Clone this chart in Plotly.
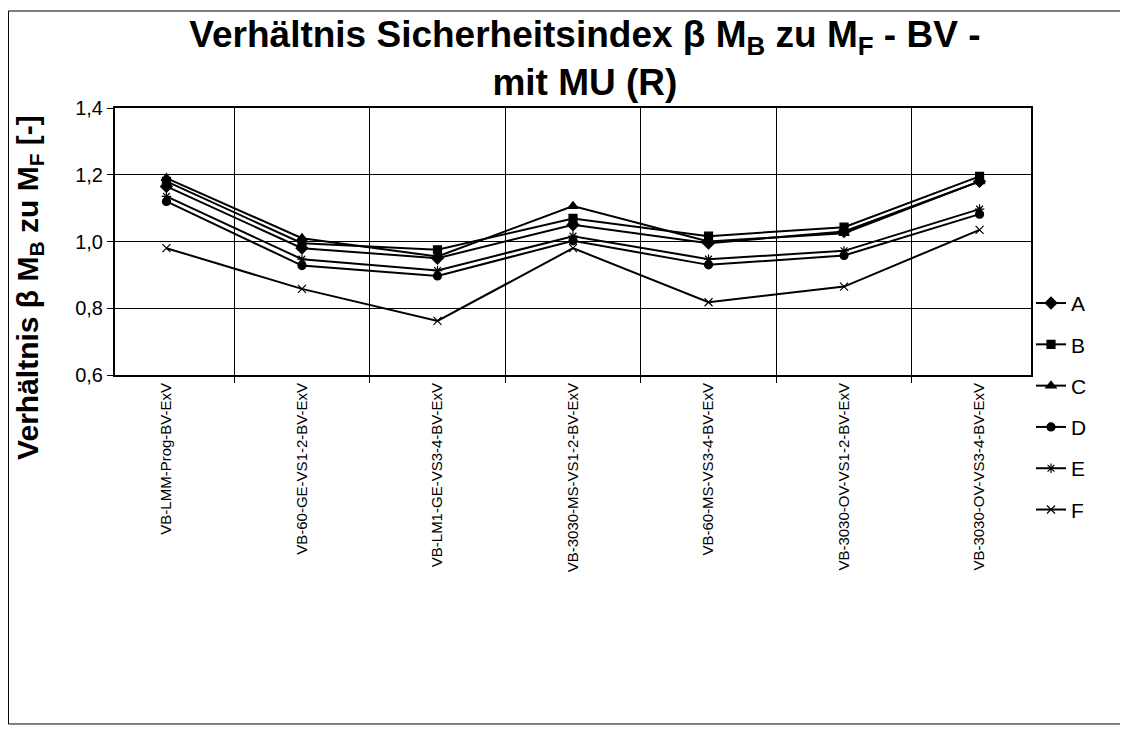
import plotly.graph_objects as go

# Kategorien (Versuchsbezeichnungen)
categories = [
    "VB-LMM-Prog-BV-ExV",
    "VB-60-GE-VS1-2-BV-ExV",
    "VB-LM1-GE-VS3-4-BV-ExV",
    "VB-3030-MS-VS1-2-BV-ExV",
    "VB-60-MS-VS3-4-BV-ExV",
    "VB-3030-OV-VS1-2-BV-ExV",
    "VB-3030-OV-VS3-4-BV-ExV",
]

# Verhältnis beta M_B / M_F je Reihe
A = [1.165, 0.980, 0.950, 1.050, 0.995, 1.030, 1.180]
B = [1.180, 0.995, 0.975, 1.069, 1.016, 1.043, 1.195]
C = [1.190, 1.010, 0.955, 1.106, 1.000, 1.025, 1.180]
D = [1.120, 0.928, 0.897, 1.002, 0.930, 0.958, 1.082]
E = [1.135, 0.947, 0.913, 1.016, 0.947, 0.972, 1.097]
F = [0.980, 0.858, 0.762, 0.980, 0.818, 0.865, 1.035]

y_ticks = [0.6, 0.8, 1.0, 1.2, 1.4]

series = [
    ("A", A, "diamond", 9),
    ("B", B, "square", 8),
    ("C", C, "triangle-up", 9),
    ("D", D, "circle", 8),
    ("E", E, "asterisk-open", 8),
    ("F", F, "x-thin-open", 8),
]

FONT = "Liberation Sans, Arial, sans-serif"

fig = go.Figure()

for name, vals, sym, size in series:
    fig.add_trace(
        go.Scatter(
            x=categories,
            y=vals,
            mode="lines+markers",
            name=name,
            legendgroup=name,
            line=dict(color="black", width=2),
            marker=dict(symbol=sym, size=size, color="black",
                        line=dict(color="black", width=1.2)),
        )
    )

# Rahmen um das gesamte Diagramm
fig.add_shape(
    type="rect", xref="paper", yref="paper",
    x0=-0.1163, x1=1.1015, y0=-1.307, y1=1.3633,
    line=dict(color="black", width=1),
)

# y-Achsentitel als Annotation (frei positionierbar)
fig.add_annotation(
    text="<b>Verhältnis β M<sub>B</sub> zu M<sub>F</sub> [-]</b>",
    xref="paper", yref="paper", x=-0.0928, y=0.33,
    xanchor="center", yanchor="middle",
    textangle=-90, showarrow=False,
    font=dict(family=FONT, size=30, color="black"),
)

fig.update_xaxes(
    type="category",
    tickson="boundaries",
    showgrid=True, gridcolor="black", gridwidth=1,
    ticks="outside", ticklen=6, tickcolor="black",
    tickangle=-90,
    tickfont=dict(family=FONT, size=15, color="black"),
    showline=True, linecolor="black", linewidth=2, mirror=True,
)

fig.update_yaxes(
    range=[0.6, 1.4],
    tickvals=y_ticks,
    tickformat=".1f",
    showgrid=True, gridcolor="black", gridwidth=1,
    ticks="outside", ticklen=6, tickcolor="black",
    tickfont=dict(family=FONT, size=20, color="black"),
    showline=True, linecolor="black", linewidth=2, mirror=True,
    zeroline=False,
)

fig.update_layout(
    width=1120,
    height=727,
    separators=",.",
    paper_bgcolor="white",
    plot_bgcolor="white",
    margin=dict(l=107, r=97, t=100, b=360),
    title=dict(
        text="<b>Verhältnis Sicherheitsindex β M<sub>B</sub> zu M<sub>F</sub> - BV -<br>mit MU (R)</b>",
        x=0.513, xref="paper", xanchor="center",
        y=0.946, yref="container", yanchor="middle",
        font=dict(family=FONT, size=37, color="black"),
    ),
    legend=dict(
        x=1.0, xanchor="left", y=0.345, yanchor="top",
        font=dict(family=FONT, size=21, color="black"),
        tracegroupgap=11,
        itemwidth=30,
        bgcolor="rgba(0,0,0,0)",
    ),
    showlegend=True,
)

fig.write_html("out.html")
